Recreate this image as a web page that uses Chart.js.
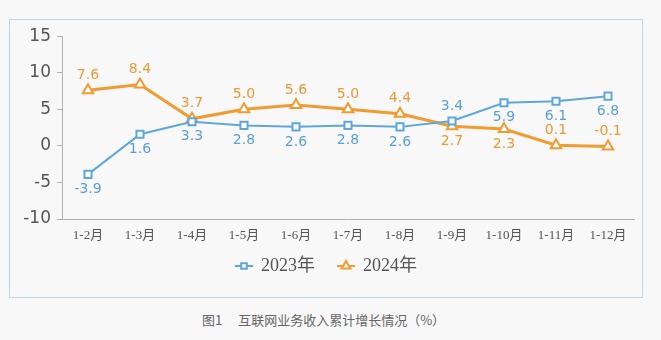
<!DOCTYPE html>
<html>
<head>
<meta charset="utf-8">
<script src="https://cdn.jsdelivr.net/npm/chart.js@4"></script>
<style>
  html, body { margin: 0; padding: 0; background: #f8f8f8; }
  body { width: 661px; height: 340px; position: relative; overflow: hidden; }
  #box { position: absolute; left: 9px; top: 19px; width: 632px; height: 277px; border: 1px solid #b9d8f0; }
  #chart-wrap { position: absolute; left: 0; top: 0; width: 632px; height: 277px; }
  #caption { position: absolute; left: 202px; top: 310px; font: 13px "Noto Sans CJK SC", sans-serif; color: #666; white-space: pre; }
</style>
</head>
<body>
<div id="box"><div id="chart-wrap"><canvas id="chart"></canvas></div></div>
<div id="caption">图1　 互联网业务收入累计增长情况（%）</div>
<script>
const months = ['1-2月', '1-3月', '1-4月', '1-5月', '1-6月', '1-7月', '1-8月', '1-9月', '1-10月', '1-11月', '1-12月'];
const growth2023 = [-3.9, 1.6, 3.3, 2.8, 2.6, 2.8, 2.6, 3.4, 5.9, 6.1, 6.8];
const growth2024 = [7.6, 8.4, 3.7, 5.0, 5.6, 5.0, 4.4, 2.7, 2.3, 0.1, -0.1];
// which labels sit below the point (true) or above (false)
const below2023 = [true, true, true, true, true, true, true, false, true, true, true];
const below2024 = [false, false, false, false, false, false, false, true, true, false, false];
const yTicks = [-10, -5, 0, 5, 10, 15];

const BLUE = '#5ea7dc';
const ORANGE = '#f29b30';

// --- value labels next to each point ---
const valueLabels = {
  id: 'valueLabels',
  afterDatasetsDraw(chart) {
    const ctx = chart.ctx;
    const sides = [below2023, below2024];
    ctx.save();
    ctx.font = '14px "DejaVu Sans", sans-serif';
    ctx.textAlign = 'center';
    ctx.textBaseline = 'middle';
    chart.data.datasets.forEach((ds, i) => {
      ctx.fillStyle = ds.labelColor;
      chart.getDatasetMeta(i).data.forEach((pt, j) => {
        const dy = sides[i][j] ? 15 : -15;
        ctx.fillText(ds.data[j].toFixed(1), pt.x, pt.y + dy);
      });
    });
    ctx.restore();
  }
};

// --- legend with line + hollow marker, centred under the plot ---
const lineLegend = {
  id: 'lineLegend',
  afterDraw(chart) {
    const ctx = chart.ctx;
    const y = 246;
    ctx.save();
    ctx.font = '18px "Liberation Serif", "Noto Sans CJK SC", serif';
    ctx.textBaseline = 'middle';
    const items = chart.data.datasets.map(ds => ({ ds, w: 18 + 8 + ctx.measureText(ds.label).width }));
    const gap = 22;
    const total = items.reduce((s, it) => s + it.w, 0) + gap * (items.length - 1);
    let x = chart.width / 2 - total / 2;
    items.forEach(({ ds }, i) => {
      ctx.strokeStyle = ds.borderColor;
      ctx.lineWidth = 2;
      ctx.beginPath(); ctx.moveTo(x, y); ctx.lineTo(x + 18, y); ctx.stroke();
      ctx.fillStyle = '#ffffff';
      Chart.helpers.drawPoint(ctx, {
        pointStyle: ds.pointStyle, radius: ds.pointRadius - 1, borderWidth: 2
      }, x + 9, y);
      ctx.fillStyle = '#555';
      ctx.fillText(ds.label, x + 26, y);
      x += items[i].w + gap;
    });
    ctx.restore();
  }
};

new Chart(document.getElementById('chart'), {
  type: 'line',
  data: {
    labels: months,
    datasets: [
      { label: '2023年', data: growth2023, borderColor: BLUE, backgroundColor: '#ffffff', labelColor: '#5b9fd6',
        borderWidth: 2, pointStyle: 'rect', pointRadius: 5, pointBorderWidth: 2, pointBackgroundColor: '#ffffff', tension: 0 },
      { label: '2024年', data: growth2024, borderColor: ORANGE, backgroundColor: '#ffffff', labelColor: '#ec9a34',
        borderWidth: 3, pointStyle: 'triangle', pointRadius: 6, pointBorderWidth: 2, pointBackgroundColor: '#ffffff', tension: 0 }
    ]
  },
  options: {
    responsive: true,
    maintainAspectRatio: false,
    animation: false,
    layout: { padding: { left: 0, top: 13, right: 5, bottom: 48 } },
    plugins: { legend: { display: false }, tooltip: { enabled: false } },
    scales: {
      x: {
        offset: true,
        grid: { drawOnChartArea: false, drawTicks: false },
        border: { display: true, color: '#b0b0b0', width: 1 },
        ticks: { padding: 9, color: '#555', maxRotation: 0, autoSkip: false,
          font: { family: '"Liberation Serif", "Noto Sans CJK SC", serif', size: 13 } },
        afterFit(scale) { scale.height = 30; }
      },
      y: {
        min: -10, max: 15,
        afterBuildTicks(scale) { scale.ticks = yTicks.map(v => ({ value: v })); },
        grid: { drawOnChartArea: false, drawTicks: true, tickLength: 5, color: '#b0b0b0' },
        border: { display: true, color: '#b0b0b0', width: 1 },
        ticks: { padding: 6, color: '#555', font: { family: '"DejaVu Sans", sans-serif', size: 17 } },
        afterFit(scale) { scale.width = 52; }
      }
    }
  },
  plugins: [valueLabels, lineLegend]
});
</script>
</body>
</html>
